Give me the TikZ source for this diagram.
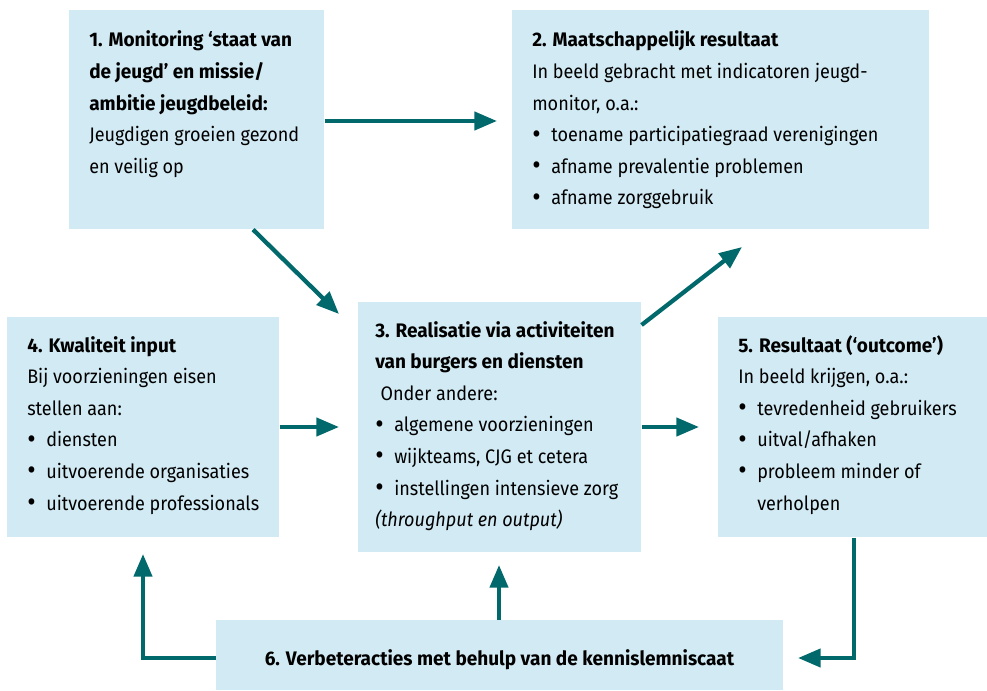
\documentclass[tikz,border=0pt]{standalone}
\usepackage{fontspec}
\setmainfont[FakeStretch=0.92,BoldFeatures={FakeStretch=0.97}]{Fira Sans}
\usetikzlibrary{arrows.meta,calc}
\definecolor{boxblue}{RGB}{209,234,243}
\definecolor{teal}{RGB}{1,104,107}
\newcommand{\bul}[1]{\makebox[14.25pt][l]{\raisebox{-0.08em}{\fontsize{21}{23.7}\selectfont\textbullet}}#1}
\newcommand{\ind}[1]{\hspace*{14.25pt}#1}
\newcommand{\boxtext}[2]{\parbox[t]{#1}{\fontsize{14.7}{23.7}\selectfont\raggedright #2}}
\begin{document}
\begin{tikzpicture}[x=0.75pt,y=-0.75pt,
  box/.style={fill=boxblue,draw=none,inner sep=0pt,anchor=north west},
  txt/.style={anchor=base west,inner sep=0pt,text=black},
  arr/.style={draw=teal,line width=3.2pt,-{Triangle[length=17pt,width=13.5pt]}}]
\useasboundingbox (0,0) rectangle (987,691);
% boxes
\node[box,minimum width=255*0.75pt,minimum height=219*0.75pt] (b1) at (69,10) {};
\node[box,minimum width=417*0.75pt,minimum height=219*0.75pt] (b2) at (512,10) {};
\node[box,minimum width=283*0.75pt,minimum height=250*0.75pt] (b3) at (358,302) {};
\node[box,minimum width=272*0.75pt,minimum height=220*0.75pt] (b4) at (7,317) {};
\node[box,minimum width=269*0.75pt,minimum height=220*0.75pt] (b5) at (718,317) {};
\node[box,minimum width=567*0.75pt,minimum height=70*0.75pt] (b6) at (216,620) {};
% texts
\node[txt] (t1) at (89,47) {\boxtext{280pt}{\textbf{1. Monitoring ‘staat van}\\\textbf{de jeugd’ en missie/}\\\textbf{ambitie jeugdbeleid:}\\Jeugdigen groeien gezond\\en veilig op}};
\node[txt] (t2) at (532,47) {\boxtext{340pt}{\textbf{2. Maatschappelijk resultaat}\\In beeld gebracht met indicatoren jeugd-\\monitor, o.a.:\\\bul{toename participatiegraad verenigingen}\\\bul{afname prevalentie problemen}\\\bul{afname zorggebruik}}};
\node[txt] (t3) at (375,337) {\boxtext{260pt}{\textbf{3. Realisatie via activiteiten}\\\textbf{van burgers en diensten}\\\hspace*{4pt}Onder andere:\\\bul{algemene voorzieningen}\\\bul{wijkteams, CJG et cetera}\\\bul{instellingen intensieve zorg}\\\textit{(throughput en output)}}};
\node[txt] (t4) at (27,352) {\boxtext{240pt}{\textbf{4. Kwaliteit input}\\Bij voorzieningen eisen\\stellen aan:\\\bul{diensten}\\\bul{uitvoerende organisaties}\\\bul{uitvoerende professionals}}};
\node[txt] (t5) at (738,352) {\boxtext{240pt}{\textbf{5. Resultaat (‘outcome’)}\\In beeld krijgen, o.a.:\\\bul{tevredenheid gebruikers}\\\bul{uitval/afhaken}\\\bul{probleem minder of}\\\ind{verholpen}}};
\node[anchor=base,inner sep=0pt,font=\fontsize{14.7}{23.7}\selectfont\bfseries] (t6) at (499.5,665) {6. Verbeteracties met behulp van de kennislemniscaat};
% arrow end points
\coordinate (e12) at (497,121);
\coordinate (s13) at (253,229);
\coordinate (e13) at (339,314);
\coordinate (s32) at (641,325);
\coordinate (e32) at (742,247);
\coordinate (e43) at (339,427);
\coordinate (e35) at (699,427);
\coordinate (c56) at (854,658);
\coordinate (e56) at (798,658);
\coordinate (c64) at (143,658);
\coordinate (e64) at (143,554);
\coordinate (e63) at (499,565);
% arrows
\draw[arr] (b1.east |- e12) -- (e12);
\draw[arr] (b1.south -| s13) -- (e13);
\draw[arr] (b3.east |- s32) -- (e32);
\draw[arr] (b4.east |- e43) -- (e43);
\draw[arr] (b3.east |- e35) -- (e35);
\draw[arr] (b5.south -| c56) -- (c56) -- (e56);
\draw[arr] (b6.west |- c64) -- (c64) -- (e64);
\draw[arr] (b6.north -| e63) -- (e63);
\end{tikzpicture}
\end{document}
